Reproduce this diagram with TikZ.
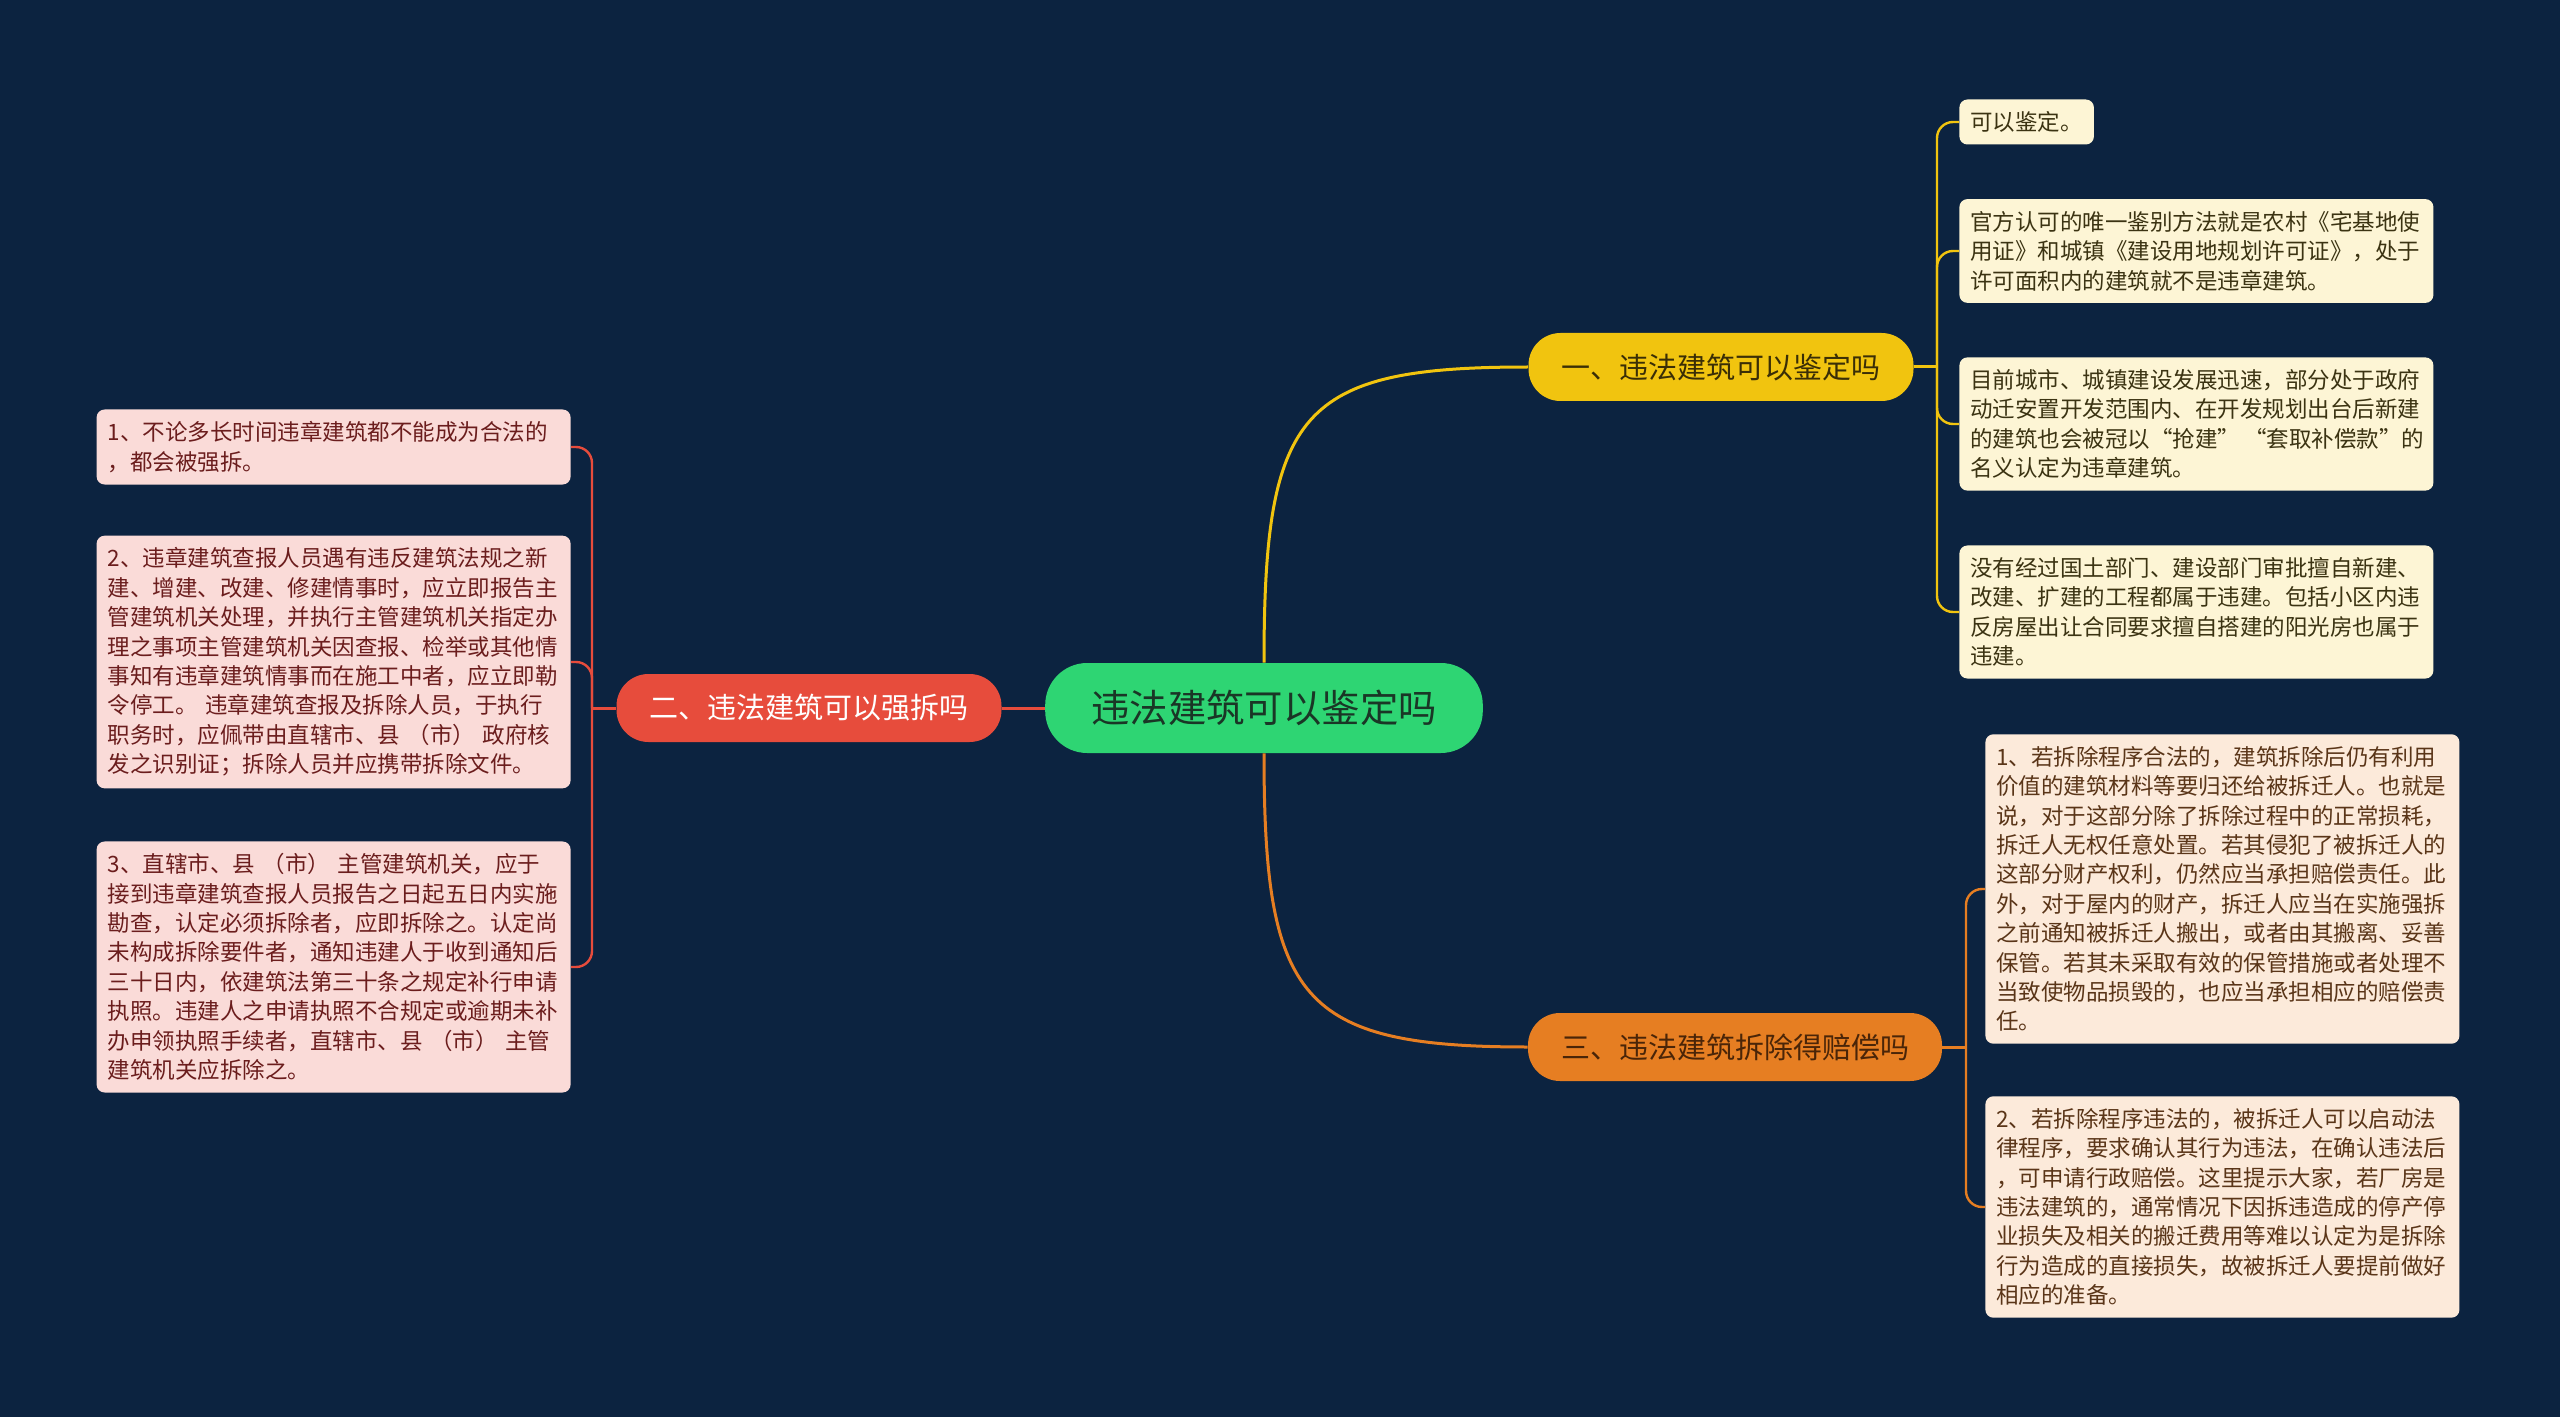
\documentclass[tikz,border=0pt]{standalone}
\usepackage{fontspec}
\setmainfont{Noto Sans CJK SC}
\definecolor{bgnavy}{HTML}{0C2340}
\definecolor{rootgreen}{HTML}{2ED573}
\definecolor{rootink}{HTML}{1A3626}
\definecolor{yelbranch}{HTML}{F1C40F}
\definecolor{yelink}{HTML}{3A2E06}
\definecolor{yelleaf}{HTML}{FDF5D5}
\definecolor{yelleafink}{HTML}{3B3312}
\definecolor{redbranch}{HTML}{E74C3C}
\definecolor{redleaf}{HTML}{FADBD8}
\definecolor{redleafink}{HTML}{6B1D1D}
\definecolor{orgbranch}{HTML}{E67E22}
\definecolor{orgink}{HTML}{4A2508}
\definecolor{orgleaf}{HTML}{FCEADA}
\definecolor{orgleafink}{HTML}{5A3518}
\begin{document}
\begin{tikzpicture}[x=0.5pt,y=0.5pt,
  rootbox/.style={fill=rootgreen, text=rootink, font=\fontsize{19.2}{23}\selectfont,
    minimum height=45pt, inner xsep=23pt, rounded corners=21pt},
  branchbox/.style={minimum height=34pt, inner xsep=16.5pt, rounded corners=16pt,
    font=\fontsize{14.5}{17}\selectfont},
  leafbox/.style={rounded corners=4pt, align=left, font=\fontsize{11.25}{14.7}\selectfont,
    inner xsep=5.5pt, inner ysep=6pt},
  wideleaf/.style={leafbox, text width=226pt},
  link/.style={line width=1.5pt},
  twig/.style={line width=1.2pt, rounded corners=8pt}]
  % Background
  \fill[bgnavy] (0,0) rectangle (2560,-1417);

  % Root and branches
  \node[rootbox] (root) at (1264,-708) {违法建筑可以鉴定吗};
  \node[branchbox, fill=yelbranch, text=yelink] (canjd) at (1721,-367) {一、违法建筑可以鉴定吗};
  \node[branchbox, fill=redbranch, text=white] (canqc) at (809,-708) {二、违法建筑可以强拆吗};
  \node[branchbox, fill=orgbranch, text=orgink] (canpc) at (1735,-1047) {三、违法建筑拆除得赔偿吗};

  % Leaves of branch one
  \node[leafbox, fill=yelleaf, text=yelleafink, anchor=west] (jd1) at (1959,-122) {可以鉴定。};
  \node[wideleaf, fill=yelleaf, text=yelleafink, anchor=west] (jd2) at (1959,-251)
    {官方认可的唯一鉴别方法就是农村《宅基地使\\用证》和城镇《建设用地规划许可证》，处于\\许可面积内的建筑就不是违章建筑。};
  \node[wideleaf, fill=yelleaf, text=yelleafink, anchor=west] (jd3) at (1959,-424)
    {目前城市、城镇建设发展迅速，部分处于政府\\动迁安置开发范围内、在开发规划出台后新建\\\mbox{的建筑也会被冠以“抢建”\,“套取补偿款”的}\\名义认定为违章建筑。};
  \node[wideleaf, fill=yelleaf, text=yelleafink, anchor=west] (jd4) at (1959,-612)
    {没有经过国土部门、建设部门审批擅自新建、\\改建、扩建的工程都属于违建。包括小区内违\\反房屋出让合同要求擅自搭建的阳光房也属于\\违建。};

  % Leaves of branch two
  \node[wideleaf, fill=redleaf, text=redleafink, anchor=east] (qc1) at (571,-447)
    {1、不论多长时间违章建筑都不能成为合法的\\，都会被强拆。};
  \node[wideleaf, fill=redleaf, text=redleafink, anchor=east] (qc2) at (571,-662)
    {2、违章建筑查报人员遇有违反建筑法规之新\\建、增建、改建、修建情事时，应立即报告主\\管建筑机关处理，并执行主管建筑机关指定办\\理之事项主管建筑机关因查报、检举或其他情\\事知有违章建筑情事而在施工中者，应立即勒\\令停工。 违章建筑查报及拆除人员，于执行\\职务时，应佩带由直辖市、县 （市） 政府核\\发之识别证；拆除人员并应携带拆除文件。};
  \node[wideleaf, fill=redleaf, text=redleafink, anchor=east] (qc3) at (571,-967)
    {3、直辖市、县 （市） 主管建筑机关，应于\\接到违章建筑查报人员报告之日起五日内实施\\勘查，认定必须拆除者，应即拆除之。认定尚\\未构成拆除要件者，通知违建人于收到通知后\\三十日内，依建筑法第三十条之规定补行申请\\执照。违建人之申请执照不合规定或逾期未补\\办申领执照手续者，直辖市、县 （市） 主管\\建筑机关应拆除之。};

  % Leaves of branch three
  \node[wideleaf, fill=orgleaf, text=orgleafink, anchor=west] (pc1) at (1985,-889)
    {1、若拆除程序合法的，建筑拆除后仍有利用\\价值的建筑材料等要归还给被拆迁人。也就是\\说，对于这部分除了拆除过程中的正常损耗，\\拆迁人无权任意处置。若其侵犯了被拆迁人的\\这部分财产权利，仍然应当承担赔偿责任。此\\外，对于屋内的财产，拆迁人应当在实施强拆\\之前通知被拆迁人搬出，或者由其搬离、妥善\\保管。若其未采取有效的保管措施或者处理不\\当致使物品损毁的，也应当承担相应的赔偿责\\任。};
  \node[wideleaf, fill=orgleaf, text=orgleafink, anchor=west] (pc2) at (1985,-1207)
    {2、若拆除程序违法的，被拆迁人可以启动法\\律程序，要求确认其行为违法，在确认违法后\\，可申请行政赔偿。这里提示大家，若厂房是\\违法建筑的，通常情况下因拆违造成的停产停\\业损失及相关的搬迁费用等难以认定为是拆除\\行为造成的直接损失，故被拆迁人要提前做好\\相应的准备。};

  % Trunk points
  \coordinate (jdfork) at (1937,-367);
  \coordinate (qcfork) at (592,-708);
  \coordinate (pcfork) at (1966,-1047);

  % Root to branches
  \draw[link, yelbranch] (root.north) .. controls (1264,-410) and (1300,-367) .. (canjd.west);
  \draw[link, redbranch] (root.west) -- (canqc.east);
  \draw[link, orgbranch] (root.south) .. controls (1264,-1000) and (1300,-1047) .. (canpc.west);

  % Branches to leaves
  \draw[link, yelbranch] (canjd.east) -- (jdfork);
  \foreach \leaf in {jd1,jd2,jd3,jd4}
    \draw[twig, yelbranch] (jdfork) |- (\leaf.west);
  \draw[link, redbranch] (canqc.west) -- (qcfork);
  \foreach \leaf in {qc1,qc2,qc3}
    \draw[twig, redbranch] (qcfork) |- (\leaf.east);
  \draw[link, orgbranch] (canpc.east) -- (pcfork);
  \foreach \leaf in {pc1,pc2}
    \draw[twig, orgbranch] (pcfork) |- (\leaf.west);
\end{tikzpicture}
\end{document}
